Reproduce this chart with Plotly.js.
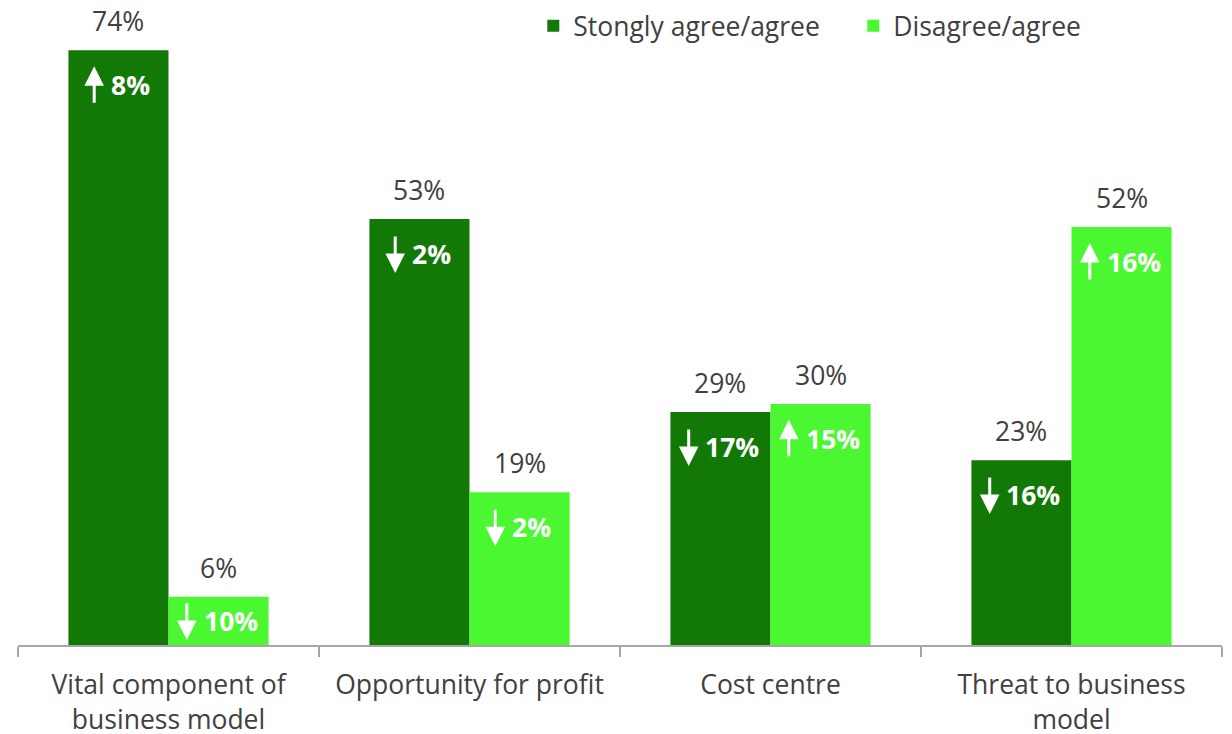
<!DOCTYPE html>
<html>
<head>
<meta charset="utf-8">
<script src="https://cdn.plot.ly/plotly-3.0.1.min.js"></script>
<style>
html,body{margin:0;padding:0;background:#fff;}
#chart{width:1232px;height:734px;}
</style>
</head>
<body>
<div id="chart"></div>
<script>
const categories = ["Vital component of<br>business model", "Opportunity for profit", "Cost centre", "Threat to business<br>model"];
const seriesNames = ["Stongly agree/agree", "Disagree/agree"];
const agree = [74, 53, 29, 23];
const disagree = [6, 19, 30, 52];
const agreeChange = ["8%", "2%", "17%", "16%"];
const agreeDir = ["up", "down", "down", "down"];
const disagreeChange = ["10%", "2%", "15%", "16%"];
const disagreeDir = ["down", "down", "up", "up"];

const darkGreen = "#137906";
const lightGreen = "#4af731";
const textGrey = "#404040";
const FONT = "Open Sans, sans-serif";
const FS = 26.5;
const bargap = 0.335;
const half = (1 - bargap) / 4;

const traces = [
  {type: "bar", name: seriesNames[0], x: categories, y: agree, marker: {color: darkGreen}, hoverinfo: "skip"},
  {type: "bar", name: seriesNames[1], x: categories, y: disagree, marker: {color: lightGreen}, hoverinfo: "skip"}
];

const annotations = [];
function textWidth(s) { return s.length === 2 ? 38.5 : 53.5; }
function addBar(i, offset, val, change, dir) {
  const xc = i + offset;
  annotations.push({x: xc, y: val, xref: "x", yref: "y", text: val + "%", showarrow: false,
    yanchor: "bottom", yshift: 9, font: {family: FONT, size: FS, color: textGrey}});
  const yc = Math.max(val - 4.35, val / 2);
  const tw = textWidth(change);
  annotations.push({x: xc, y: yc, xref: "x", yref: "y", text: "<b>" + change + "</b>", showarrow: false,
    xanchor: "center", yanchor: "middle", xshift: 12,
    font: {family: FONT, size: FS, color: "#ffffff"}});
  const up = dir === "up";
  annotations.push({x: xc, y: yc, xref: "x", yref: "y", text: "", showarrow: true,
    arrowhead: 2, arrowsize: 1.3, arrowwidth: 3, arrowcolor: "#ffffff", standoff: 0, startstandoff: 0,
    ax: 0, ay: up ? 38 : -38, xshift: 12 - tw / 2 - 17, yshift: up ? 19 : -19});
}
for (let i = 0; i < categories.length; i++) {
  addBar(i, -half, agree[i], agreeChange[i], agreeDir[i]);
  addBar(i, half, disagree[i], disagreeChange[i], disagreeDir[i]);
}

const layout = {
  width: 1232, height: 734,
  margin: {l: 18, r: 10, t: 2, b: 89},
  paper_bgcolor: "#ffffff", plot_bgcolor: "#ffffff",
  font: {family: FONT, size: FS, color: textGrey},
  barmode: "group", bargap: bargap, bargroupgap: 0,
  showlegend: true,
  legend: {orientation: "h", x: 0.428, xanchor: "left", y: 1.0, yanchor: "top",
    font: {family: FONT, size: FS, color: textGrey}, entrywidth: 275, bgcolor: "rgba(0,0,0,0)"},
  xaxis: {type: "category", showline: true, linecolor: "#a6a6a6", linewidth: 1.5,
    ticks: "outside", tickson: "boundaries", ticklen: 10, tickcolor: "#a6a6a6", tickwidth: 1.5,
    ticklabelstandoff: 16,
    tickfont: {family: FONT, size: FS, color: textGrey}, showgrid: false, zeroline: false, fixedrange: true},
  yaxis: {range: [0, 80], showgrid: false, zeroline: false, showline: false, showticklabels: false, ticks: "", fixedrange: true},
  annotations: annotations
};

Plotly.newPlot("chart", traces, layout, {displayModeBar: false, staticPlot: true});
</script>
</body>
</html>
